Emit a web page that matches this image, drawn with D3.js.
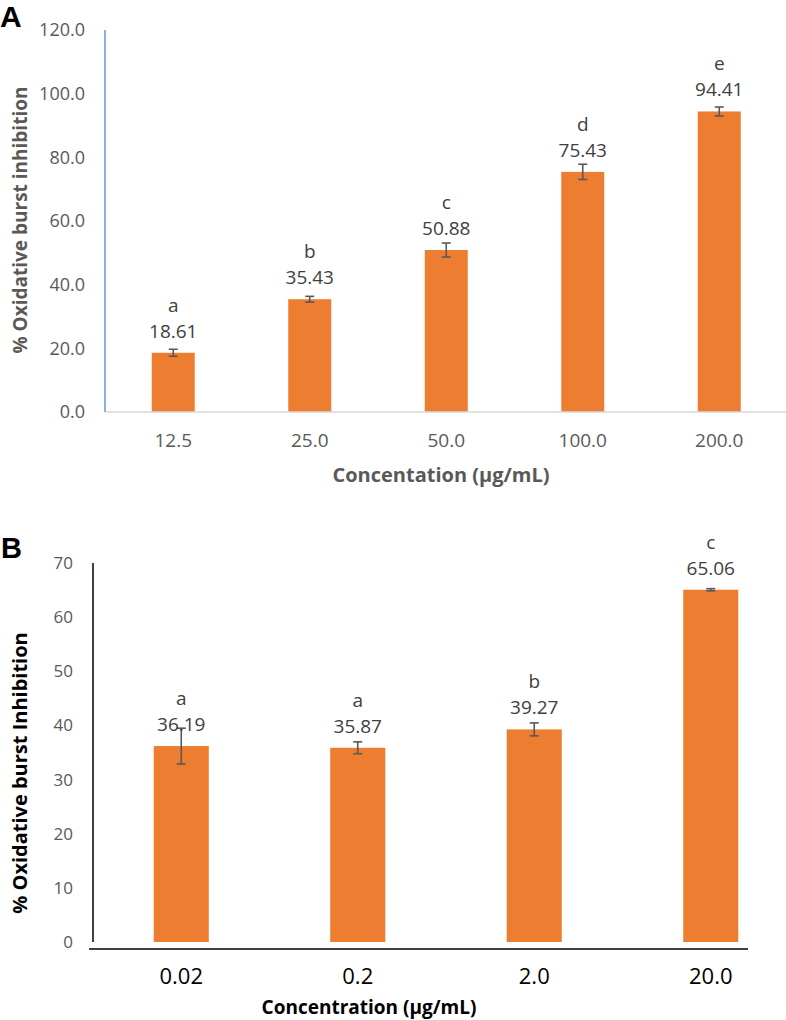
<!DOCTYPE html>
<html>
<head>
<meta charset="utf-8">
<script src="https://cdn.jsdelivr.net/npm/d3@7"></script>
<style>
  body { margin: 0; background: #fff; }
  svg { display: block; font-family: "Open Sans", sans-serif; }
</style>
</head>
<body>
<svg id="fig" width="786" height="1020"></svg>
<script>
// panel A
const concA = ['12.5', '25.0', '50.0', '100.0', '200.0']
const inhibA = [18.61, 35.43, 50.88, 75.43, 94.41]
const errA = [1.1, 0.9, 2.2, 2.4, 1.4]
const lettersA = ['a', 'b', 'c', 'd', 'e']
const ticksA = [0, 20, 40, 60, 80, 100, 120]

// panel B
const concB = ['0.02', '0.2', '2.0', '20.0']
const inhibB = [36.19, 35.87, 39.27, 65.06]
const errB = [3.3, 1.1, 1.2, 0.2]
const lettersB = ['a', 'a', 'b', 'c']
const ticksB = [0, 10, 20, 30, 40, 50, 60, 70]

const barColor = '#ED7D31'
const errColor = '#595959'
const labelColor = '#404040'

const svg = d3.select('#fig')

function drawPanel(opts) {
	const g = svg.append('g')

	const x = d3.scaleBand()
		.domain(opts.cats)
		.range([opts.left, opts.right])
		.paddingInner(opts.padIn)
		.paddingOuter(opts.padIn / 2)

	const y = d3.scaleLinear()
		.domain([0, d3.max(opts.ticks)])
		.range([opts.bottom, opts.top])

	// y tick labels (no tick marks)
	const yAxis = d3.axisLeft(y)
		.tickValues(opts.ticks)
		.tickSize(0)
		.tickPadding(0)
		.tickFormat(opts.yFmt)
	const ya = g.append('g')
		.attr('transform', 'translate(' + opts.yLabelX + ',0)')
		.call(yAxis)
	ya.select('.domain').remove()
	ya.selectAll('text')
		.attr('font-family', '"Open Sans", sans-serif')
		.attr('font-size', opts.yTickSize)
		.attr('fill', '#595959')

	// bars
	g.selectAll('rect.bar')
		.data(opts.vals)
		.enter().append('rect')
			.attr('class', 'bar')
			.attr('x', (d, i) => x(opts.cats[i]))
			.attr('y', (d) => y(d))
			.attr('width', x.bandwidth())
			.attr('height', (d) => y(0) - y(d))
			.attr('fill', barColor)

	// error bars
	const cx = (i) => x(opts.cats[i]) + x.bandwidth() / 2
	const eb = g.selectAll('g.err')
		.data(opts.vals)
		.enter().append('g')
			.attr('class', 'err')
			.attr('stroke', errColor)
			.attr('stroke-width', 1.6)
	eb.append('line')
		.attr('x1', (d, i) => cx(i)).attr('x2', (d, i) => cx(i))
		.attr('y1', (d, i) => y(d + opts.err[i])).attr('y2', (d, i) => y(d - opts.err[i]))
	eb.append('line')
		.attr('x1', (d, i) => cx(i) - 4.5).attr('x2', (d, i) => cx(i) + 4.5)
		.attr('y1', (d, i) => y(d + opts.err[i])).attr('y2', (d, i) => y(d + opts.err[i]))
	eb.append('line')
		.attr('x1', (d, i) => cx(i) - 4.5).attr('x2', (d, i) => cx(i) + 4.5)
		.attr('y1', (d, i) => y(d - opts.err[i])).attr('y2', (d, i) => y(d - opts.err[i]))

	// value + letter labels
	g.selectAll('text.val')
		.data(opts.vals)
		.enter().append('text')
			.attr('class', 'val')
			.attr('x', (d, i) => cx(i))
			.attr('y', (d) => y(d) - 15)
			.attr('text-anchor', 'middle')
			.attr('font-size', 19)
			.attr('fill', labelColor)
			.text((d) => d.toFixed(2))
	g.selectAll('text.letter')
		.data(opts.letters)
		.enter().append('text')
			.attr('class', 'letter')
			.attr('x', (d, i) => cx(i))
			.attr('y', (d, i) => y(opts.vals[i]) - 41)
			.attr('text-anchor', 'middle')
			.attr('font-size', 19)
			.attr('fill', labelColor)
			.text((d) => d)

	// category labels
	g.selectAll('text.cat')
		.data(opts.cats)
		.enter().append('text')
			.attr('class', 'cat')
			.attr('x', (d) => x(d) + x.bandwidth() / 2)
			.attr('y', opts.catY)
			.attr('text-anchor', 'middle')
			.attr('font-size', opts.catSize)
			.attr('fill', opts.catColor)
			.text((d) => d)

	return {x: x, y: y, g: g}
}

// ---------- A ----------
const A = drawPanel({
	cats: concA, vals: inhibA, err: errA, letters: lettersA, ticks: ticksA,
	left: 105, right: 787.5, top: 30, bottom: 412, padIn: 0.685,
	yLabelX: 85, yTickSize: 18, yFmt: d3.format('.1f'),
	catY: 447, catSize: 19, catColor: '#595959'
})
A.g.append('line')
	.attr('x1', 105).attr('x2', 786)
	.attr('y1', A.y(0)).attr('y2', A.y(0))
	.attr('stroke', '#D9D9D9').attr('stroke-width', 1.5)
A.g.append('line')
	.attr('x1', 105).attr('x2', 105)
	.attr('y1', A.y(120)).attr('y2', A.y(0))
	.attr('stroke', '#5B9BD5').attr('stroke-width', 1.5)
A.g.append('text')
	.attr('x', 441).attr('y', 482)
	.attr('text-anchor', 'middle')
	.attr('font-size', 20).attr('font-weight', 'bold')
	.attr('fill', '#595959')
	.text('Concentation (µg/mL)')
A.g.append('text')
	.attr('transform', 'translate(27,220) rotate(-90)')
	.attr('text-anchor', 'middle')
	.attr('font-size', 19).attr('font-weight', 'bold')
	.attr('fill', '#595959')
	.text('% Oxidative burst inhibition')

// ---------- B ----------
const B = drawPanel({
	cats: concB, vals: inhibB, err: errB, letters: lettersB, ticks: ticksB,
	left: 93, right: 799, top: 563, bottom: 942, padIn: 0.688,
	yLabelX: 73, yTickSize: 17, yFmt: d3.format('d'),
	catY: 984, catSize: 22, catColor: '#000'
})
B.g.append('line')
	.attr('x1', 93).attr('x2', 93)
	.attr('y1', B.y(70)).attr('y2', B.y(0))
	.attr('stroke', '#000').attr('stroke-width', 1.5)
B.g.append('line')
	.attr('x1', 89).attr('x2', 748)
	.attr('y1', B.y(0) + 7).attr('y2', B.y(0) + 7)
	.attr('stroke', '#000').attr('stroke-width', 1.5)
B.g.append('text')
	.attr('x', 369).attr('y', 1014)
	.attr('text-anchor', 'middle')
	.attr('font-size', 19).attr('font-weight', 'bold')
	.attr('fill', '#000')
	.text('Concentration (µg/mL)')
B.g.append('text')
	.attr('transform', 'translate(27,773) rotate(-90)')
	.attr('text-anchor', 'middle')
	.attr('font-size', 20).attr('font-weight', 'bold')
	.attr('fill', '#000')
	.text('% Oxidative burst Inhibition')

// panel letters
svg.append('text')
	.attr('x', 0).attr('y', 27)
	.attr('font-family', '"Liberation Sans", Arial, sans-serif')
	.attr('font-size', 30).attr('font-weight', 'bold')
	.text('A')
svg.append('text')
	.attr('x', 1).attr('y', 558)
	.attr('font-family', '"Liberation Sans", Arial, sans-serif')
	.attr('font-size', 29).attr('font-weight', 'bold')
	.text('B')
</script>
</body>
</html>
